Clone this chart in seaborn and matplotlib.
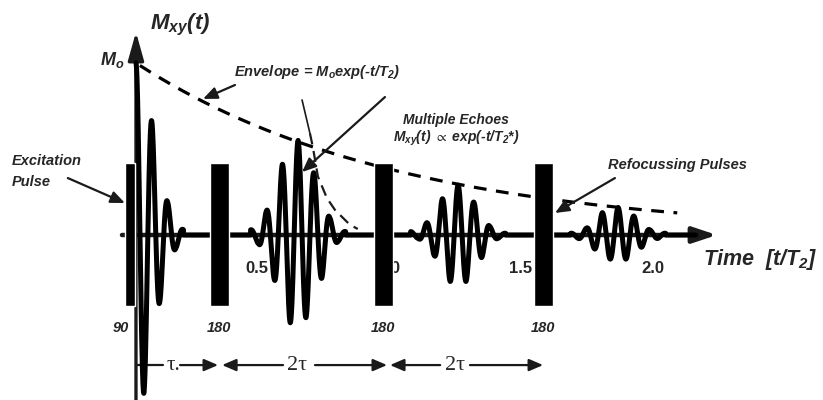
import numpy as np
import matplotlib
matplotlib.use('Agg')
import matplotlib.pyplot as plt
import seaborn as sns

# Pulses (t/T2 units), drawn as black bars
pulse_times = [-0.023, 0.316, 0.936, 1.542]
pulse_widths = [0.038, 0.072, 0.072, 0.072]
pulse_labels = ['90', '180', '180', '180']
pulse_top = 0.42
pulse_bottom = -0.41

# Signal: lobe peak values, one lobe per half period
half_period = 0.030
fid_lobes = [1.0, -0.92, 0.66, -0.39, 0.19, -0.08, 0.03]
echo_times = [0.614, 1.220, 1.826]
echo1_lobes = [0.03, -0.05, 0.14, -0.26, 0.41, -0.51, 0.55, -0.48, 0.36, -0.25, 0.10, -0.04, 0.02]
echo2_lobes = [0.02, -0.02, 0.07, -0.12, 0.21, -0.27, 0.29, -0.27, 0.19, -0.13, 0.05, -0.02, 0.01]
echo3_lobes = [0.01, -0.02, 0.04, -0.08, 0.13, -0.14, 0.16, -0.14, 0.11, -0.07, 0.03, -0.02, 0.01]

# Envelope = Mo exp(-t/T2)
M0 = 1.0
T2 = 1.0

# T2* decay sketch next to the first echo
t2s_t = [0.629, 0.659, 0.670, 0.689, 0.723, 0.754, 0.810, 0.840]
t2s_y = [0.785, 0.590, 0.510, 0.340, 0.215, 0.145, 0.060, 0.035]

tick_values = [0.5, 1.0, 1.5, 2.0]
tick_labels = ['0.5', '1.0', '1.5', '2.0']

sns.set_theme(style='white')
plt.rcParams['font.family'] = ['Liberation Sans', 'DejaVu Sans']
plt.rcParams['mathtext.fontset'] = 'custom'
plt.rcParams['mathtext.it'] = 'Liberation Sans:italic:bold'
plt.rcParams['mathtext.rm'] = 'Liberation Sans:italic:bold'
plt.rcParams['mathtext.sf'] = 'Liberation Sans:italic:bold'
plt.rcParams['mathtext.fallback'] = 'stix'


def burst(t, center, lobes, first_k):
    k = np.arange(len(lobes)) + first_k
    pos = center + k * half_period
    amp = np.interp(t, pos, np.abs(lobes), left=0, right=0)
    return amp * np.cos(np.pi * (t - center) / half_period)


t = np.linspace(0, 2.12, 5000)
signal = burst(t, 0.0, fid_lobes, 0)
for tc, lobes in zip(echo_times, [echo1_lobes, echo2_lobes, echo3_lobes]):
    signal = signal + burst(t, tc, lobes, -6)

fig = plt.figure(figsize=(8.23, 4.0), dpi=100)
ax = fig.add_axes([0, 0, 1, 1])
ax.set_xlim(-0.515, 2.602)
ax.set_ylim(-0.959, 1.366)
ax.axis('off')

# axes with arrows
ax.annotate('', xy=(0, 1.18), xytext=(0, -0.97),
            arrowprops=dict(arrowstyle='-|>,head_length=1.0,head_width=0.28',
                            lw=2.4, color='k', mutation_scale=17, shrinkA=0, shrinkB=0))
ax.annotate('', xy=(2.2, 0), xytext=(-0.053, 0),
            arrowprops=dict(arrowstyle='-|>,head_length=0.9,head_width=0.3',
                            lw=3.2, color='k', mutation_scale=16, shrinkA=0, shrinkB=0))

# signal and envelope
sns.lineplot(x=t, y=signal, ax=ax, color='black', lw=3.6, zorder=3)
t_env = np.linspace(0.015, 2.05, 300)
sns.lineplot(x=t_env, y=M0 * np.exp(-t_env / T2), ax=ax, color='black', lw=2.3,
             linestyle=(0, (4, 3)), zorder=3)

# T2* decay curve
ax.plot(t2s_t[:2], t2s_y[:2], color='k', lw=1.2, zorder=3)
ax.plot(t2s_t[1:], t2s_y[1:], color='k', lw=1.6, linestyle=(0, (5, 3)), zorder=3)

# pulses
ax.bar(pulse_times, pulse_top - pulse_bottom, bottom=pulse_bottom, width=pulse_widths,
       color='black', zorder=4)
for x, lab in zip(pulse_times, pulse_labels):
    ax.text(x - (0.035 if lab == '90' else 0), -0.541, lab, ha='center', va='center',
            fontsize=10.5, fontweight='bold', fontstyle='italic')

# time tick labels
for x, lab in zip(tick_values, tick_labels):
    ax.text(x, -0.192, lab, ha='right', va='center', fontsize=12,
            fontweight='bold', zorder=2)

# titles / labels
bi = dict(fontweight='bold', fontstyle='italic')
ax.text(0.167, 1.221, r'M$_{xy}$(t)', ha='center', va='center', fontsize=16, **bi)
ax.text(-0.091, 1.017, r'M$_o$', ha='center', va='center', fontsize=13, **bi)
ax.text(2.148, -0.145, r'Time  [t/T$_2$]', ha='left', va='center', fontsize=15.5, **bi)
ax.text(0.686, 0.948, r'Envelope = M$_o$exp(-t/T$_2$)', ha='center', va='center',
        fontsize=10.5, **bi)
ax.text(1.212, 0.669, 'Multiple Echoes', ha='center', va='center', fontsize=10, **bi)
ax.text(1.212, 0.564, r'M$_{xy}$(t) $\propto$ exp(-t/T$_{2}$*)', ha='center', va='center',
        fontsize=10, **bi)
ax.text(-0.470, 0.369, 'Excitation\nPulse', ha='left', va='center', fontsize=10.5,
        linespacing=1.6, **bi)
ax.text(2.049, 0.407, 'Refocussing Pulses', ha='center', va='center', fontsize=10.5, **bi)

# pointer arrows
arrow_kw = dict(arrowstyle='-|>,head_length=0.7,head_width=0.3', lw=1.6, color='k',
                mutation_scale=12, shrinkA=0, shrinkB=0)
ax.annotate('', xy=(-0.042, 0.186), xytext=(-0.258, 0.331), arrowprops=arrow_kw)
ax.annotate('', xy=(0.254, 0.791), xytext=(0.375, 0.872), arrowprops=arrow_kw)
ax.annotate('', xy=(0.629, 0.366), xytext=(0.943, 0.802), arrowprops=arrow_kw)
ax.annotate('', xy=(1.587, 0.128), xytext=(1.814, 0.331), arrowprops=arrow_kw)

# tau intervals
yi = -0.756
ax.plot([0.0, 0.102], [yi, yi], color='k', lw=1.6)
ax.text(0.14, yi, 'τ.', ha='center', va='center', fontsize=15, family='Liberation Serif')
ax.annotate('', xy=(0.311, yi), xytext=(0.167, yi), arrowprops=arrow_kw)
ax.annotate('', xy=(0.326, yi), xytext=(0.557, yi), arrowprops=arrow_kw)
ax.text(0.61, yi, '2τ', ha='center', va='center', fontsize=16, family='Liberation Serif')
ax.annotate('', xy=(0.951, yi), xytext=(0.678, yi), arrowprops=arrow_kw)
ax.annotate('', xy=(0.962, yi), xytext=(1.152, yi), arrowprops=arrow_kw)
ax.text(1.208, yi, '2τ', ha='center', va='center', fontsize=16, family='Liberation Serif')
ax.annotate('', xy=(1.542, yi), xytext=(1.265, yi), arrowprops=arrow_kw)

fig.savefig('out.png', dpi=100)
